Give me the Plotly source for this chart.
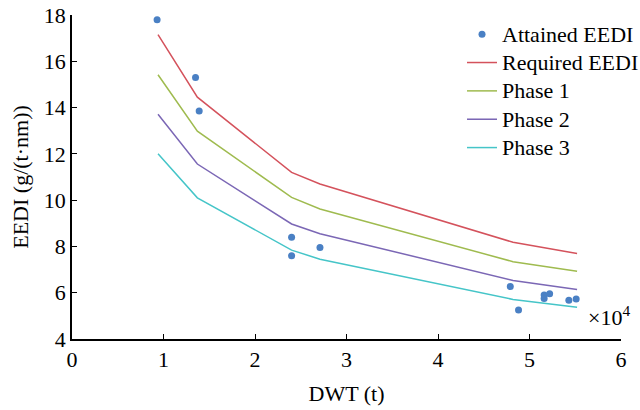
import plotly.graph_objects as go

# Attained EEDI of individual ships (DWT in units of 10^4 t)
ship_dwt = [0.93, 1.35, 1.39, 2.40, 2.40, 2.71, 4.79, 4.88, 5.16, 5.16, 5.22, 5.43, 5.51]
attained_eedi = [17.8, 15.3, 13.85, 8.4, 7.6, 7.95, 6.27, 5.25, 5.9, 5.75, 5.95, 5.67, 5.73]

# Reference lines (DWT in units of 10^4 t)
ref_dwt = [0.94, 1.37, 2.40, 2.71, 4.82, 5.52]
required_eedi = [17.15, 14.45, 11.2, 10.7, 8.18, 7.69]
phase1_eedi = [15.42, 12.98, 10.12, 9.62, 7.34, 6.93]
phase2_eedi = [13.71, 11.56, 8.97, 8.55, 6.53, 6.14]
phase3_eedi = [12.0, 10.1, 7.84, 7.45, 5.71, 5.37]

x_ticks = [0, 1, 2, 3, 4, 5, 6]
y_ticks = [4, 6, 8, 10, 12, 14, 16, 18]

FONT = "Liberation Serif"
SIZE = 22


def legend_label(text):
    # legend row height follows the legend font; the label itself is set larger
    return f'<span style="font-size:{SIZE}px">{text}</span>'


fig = go.Figure()
fig.add_trace(go.Scatter(x=ship_dwt, y=attained_eedi, mode="markers",
                         name=legend_label("Attained EEDI"),
                         marker=dict(color="#4a80c4", size=7)))
line_series = [
    ("Required EEDI", required_eedi, "#d4525c"),
    ("Phase 1", phase1_eedi, "#9fbb4f"),
    ("Phase 2", phase2_eedi, "#7b67b5"),
    ("Phase 3", phase3_eedi, "#45c5c8"),
]
for name, vals, color in line_series:
    fig.add_trace(go.Scatter(x=ref_dwt, y=vals, mode="lines", name=legend_label(name),
                             line=dict(color=color, width=1.5)))

axis_common = dict(showline=True, linecolor="black", linewidth=1.5, ticks="inside",
                   ticklen=5, tickcolor="black", tickwidth=1.2, showgrid=False,
                   zeroline=False, tickfont=dict(family=FONT, size=SIZE, color="black"),
                   mirror=False, automargin=False)

fig.update_layout(
    width=640, height=410,
    margin=dict(l=72, r=19, t=15, b=71, autoexpand=False),
    plot_bgcolor="white", paper_bgcolor="white",
    font=dict(family=FONT, size=SIZE, color="black"),
    xaxis=dict(range=[0, 6], tickvals=x_ticks,
               title=dict(text="DWT (t)", font=dict(family=FONT, size=SIZE), standoff=14),
               **axis_common),
    yaxis=dict(range=[4, 18], tickvals=y_ticks,
               title=dict(text="EEDI (g/(t·nm))", font=dict(family=FONT, size=SIZE), standoff=9),
               **axis_common),
    legend=dict(x=0.7104, y=1.0, xanchor="left", yanchor="top", bgcolor="rgba(0,0,0,0)",
                font=dict(family=FONT, size=19.5), tracegroupgap=0),
    showlegend=True,
)
fig.add_annotation(x=1.02, y=0.07, xref="paper", yref="paper", xanchor="right", yanchor="middle",
                   text="×10<sup>4</sup>", showarrow=False,
                   font=dict(family=FONT, size=SIZE, color="black"))

fig.write_html("out.html")
